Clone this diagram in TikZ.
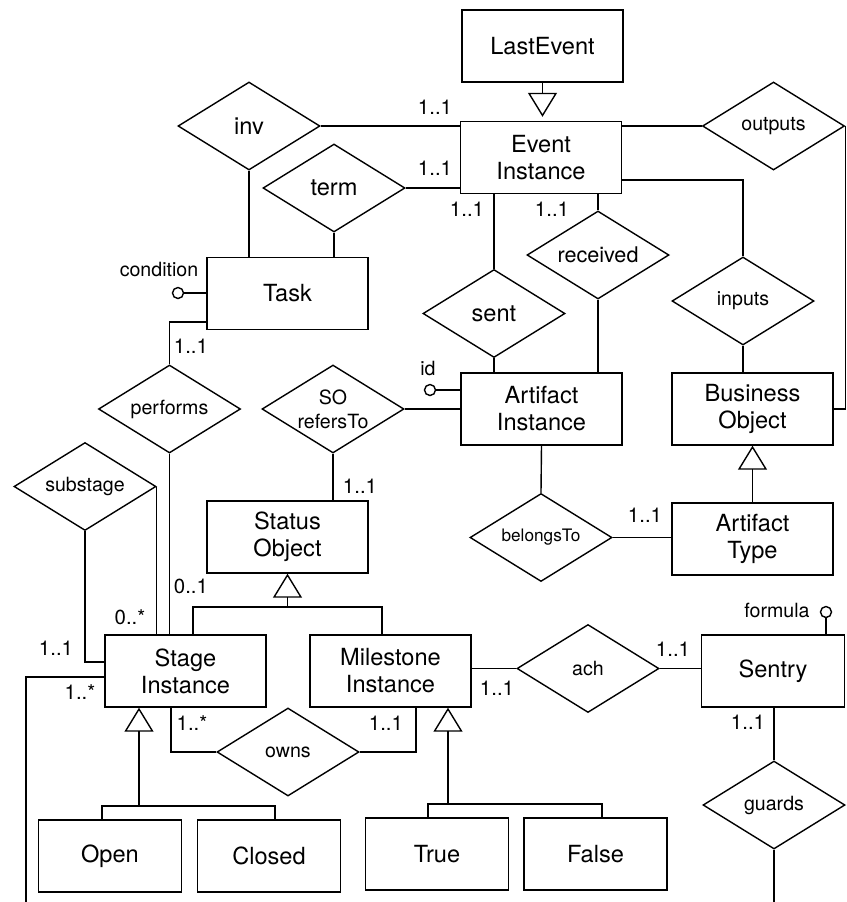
\documentclass[tikz,border=0pt]{standalone}
\usepackage{fontspec}
\setmainfont{TeX Gyre Heros}
\usetikzlibrary{shapes.geometric,arrows.meta,calc}
\definecolor{erline}{RGB}{0,0,0}
\definecolor{erfill}{RGB}{255,255,255}
\begin{document}
\begin{tikzpicture}[x=0.5pt,y=-0.5pt
,estyle/.style={draw=erline,fill=erfill,line width=0.7pt,minimum width=80.5pt,minimum height=36pt,inner sep=0pt,align=center,font=\fontsize{11.8}{13.5}\selectfont}
,esmall/.style={estyle,minimum width=71.5pt}
,rstyle/.style={draw=erline,fill=erfill,line width=0.7pt,diamond,aspect=1.6,minimum width=71pt,minimum height=44pt,inner sep=0pt,align=center,font=\fontsize{9.8}{12}\selectfont}
,rbig/.style={rstyle,font=\fontsize{11.8}{13.5}\selectfont}
,cstyle/.style={inner sep=0pt,font=\fontsize{10.2}{12}\selectfont}
,astyle/.style={inner sep=0pt,font=\fontsize{9.8}{12}\selectfont}
,adot/.style={draw=erline,fill=erfill,circle,line width=0.7pt,minimum size=5.5pt,inner sep=0pt}
,lstyle/.style={draw=erline,line width=0.7pt,line join=miter}
,gstyle/.style={lstyle,-{Triangle[open,width=14.5pt,length=12pt]}}
]
\useasboundingbox (0,0) rectangle (847,902);
\node (lastevent) at (542.5,46)[estyle]{LastEvent};
\node (eventinst) at (541,157.5)[estyle]{Event\\Instance};
\node (task) at (287.5,293.5)[estyle]{Task};
\node (artinst) at (541.5,409)[estyle]{Artifact\\Instance};
\node (busobj) at (752.5,409)[estyle]{Business\\Object};
\node (arttype) at (752.5,539)[estyle]{Artifact\\Type};
\node (statusobj) at (287.5,537)[estyle]{Status\\Object};
\node (stageinst) at (185.5,671)[estyle]{Stage\\Instance};
\node (mileinst) at (390.5,671)[estyle]{Milestone\\Instance};
\node (sentry) at (773,671)[esmall]{Sentry};
\node (sopen) at (110,856)[esmall]{Open};
\node (sclosed) at (269,856)[esmall]{Closed};
\node (mtrue) at (437,854)[esmall]{True};
\node (mfalse) at (595.5,854)[esmall]{False};
\node (inv) at (249,126)[rbig]{inv};
\node (term) at (334,188)[rbig]{term};
\node (outputs) at (773.5,126)[rstyle]{outputs};
\node (sent) at (494,313.5)[rbig]{sent};
\node (received) at (598,255)[rstyle,font=\fontsize{10.8}{13}\selectfont]{received};
\node (inputs) at (743,301)[rstyle]{inputs};
\node (performs) at (169.5,409)[rstyle]{performs};
\node (sorefers) at (333,409)[rstyle]{SO\\refersTo};
\node (substage) at (85,486.5)[rstyle]{substage};
\node (belongs) at (541,537.5)[rstyle,font=\fontsize{8.6}{10}\selectfont]{belongsTo};
\node (owns) at (288,752)[rstyle]{owns};
\node (ach) at (588,668.5)[rstyle]{ach};
\node (guards) at (774,805)[rstyle]{guards};
\node (condlabel) at (159,269)[astyle]{condition};
\node (condattr) at (178,293)[adot]{};
\node (idlabel) at (428,368)[astyle]{id};
\node (idattr) at (430,390)[adot]{};
\node (formlabel) at (777,610)[astyle]{formula};
\node (formattr) at (826,612)[adot]{};
\node (card1) at (435,107)[cstyle]{1..1};
\node (card2) at (435,168)[cstyle]{1..1};
\node (card3) at (467,209)[cstyle]{1..1};
\node (card4) at (552,209)[cstyle]{1..1};
\node (card5) at (191,346)[cstyle]{1..1};
\node (card6) at (360,486)[cstyle]{1..1};
\node (card7) at (645,515)[cstyle]{1..1};
\node (card8) at (191,586)[cstyle]{0..1};
\node (card9) at (130,617)[cstyle]{0..*};
\node (card10) at (56,648)[cstyle]{1..1};
\node (card11) at (80,692)[cstyle]{1..*};
\node (card12) at (192,723)[cstyle]{1..*};
\node (card13) at (386,723)[cstyle]{1..1};
\node (card14) at (497,688)[cstyle]{1..1};
\node (card15) at (673,649)[cstyle]{1..1};
\node (card16) at (748,722)[cstyle]{1..1};
\coordinate (sojoin) at (287.5,607);
\coordinate (stjoin) at (139,806);
\coordinate (msjoin) at (448,804);
\coordinate (loopend) at (26,902);
\coordinate (guardend) at (774,902);
\draw[gstyle,shorten >=2pt] (lastevent.south) -- (lastevent.south |- eventinst.north);
\draw[lstyle] (inv.east) -- (inv.east -| eventinst.west);
\draw[lstyle] (term.east) -- (term.east -| eventinst.west);
\draw[lstyle] (inv.south) -- (inv.south |- task.north);
\draw[lstyle] (term.south) -- (term.south |- task.north);
\draw[lstyle] (outputs.west -| eventinst.east) -- (outputs.west);
\draw[lstyle] (outputs.east) |- (busobj.east);
\draw[lstyle] ($(eventinst.east)+(0,22.5)$) -| (inputs.north);
\draw[lstyle] (inputs.south) -- (inputs.south |- busobj.north);
\draw[gstyle] (arttype.north) -- (busobj.south);
\draw[lstyle] (sent.north |- eventinst.south) -- (sent.north);
\draw[lstyle] (received.north |- eventinst.south) -- (received.north);
\draw[lstyle] (received.south) -- (received.south |- artinst.north);
\draw[lstyle] (sent.south) -- (sent.south |- artinst.north);
\draw[lstyle] (artinst.south) -- (belongs.north);
\draw[lstyle] (belongs.east) -- (belongs.east -| arttype.west);
\draw[lstyle] (idattr) -- (idattr -| artinst.west);
\draw[lstyle] (sorefers.east) -- (sorefers.east -| artinst.west);
\draw[lstyle] (sorefers.south) -- (sorefers.south |- statusobj.north);
\draw[lstyle] (condattr) -- (condattr -| task.west);
\draw[lstyle] ($(task.west)+(0,28.5)$) -| (performs.north);
\draw[lstyle] (performs.south) -- (performs.south |- stageinst.north);
\draw[lstyle] (substage.south) |- ($(stageinst.west)+(0,-9)$);
\draw[lstyle] (substage.east) -- (substage.east |- stageinst.north);
\draw[lstyle] ($(stageinst.west)+(0,6)$) -| (loopend);
\draw[gstyle] (sojoin) -- (statusobj.south);
\draw[lstyle] ($(stageinst.north)+(7.5,0)$) |- (sojoin) -| ($(mileinst.north)+(-8.5,0)$);
\draw[gstyle] (stjoin) -- (stjoin |- stageinst.south);
\draw[lstyle] ($(sopen.north)+(-8,0)$) |- (stjoin) -| ($(sclosed.north)+(6,0)$);
\draw[gstyle] (msjoin) -- (msjoin |- mileinst.south);
\draw[lstyle] ($(mtrue.north)+(-9,0)$) |- (msjoin) -| ($(mfalse.north)+(6.5,0)$);
\draw[lstyle] ($(stageinst.south)+(-14.5,0)$) |- (owns.west);
\draw[lstyle] (owns.east) -| ($(mileinst.south)+(25.5,0)$);
\draw[lstyle] (ach.west -| mileinst.east) -- (ach.west);
\draw[lstyle] (ach.east) -- (ach.east -| sentry.west);
\draw[lstyle] (formattr) -- (formattr |- sentry.north);
\draw[lstyle] (sentry.south -| guards.north) -- (guards.north);
\draw[lstyle] (guards.south) -- (guardend);
\end{tikzpicture}
\end{document}
